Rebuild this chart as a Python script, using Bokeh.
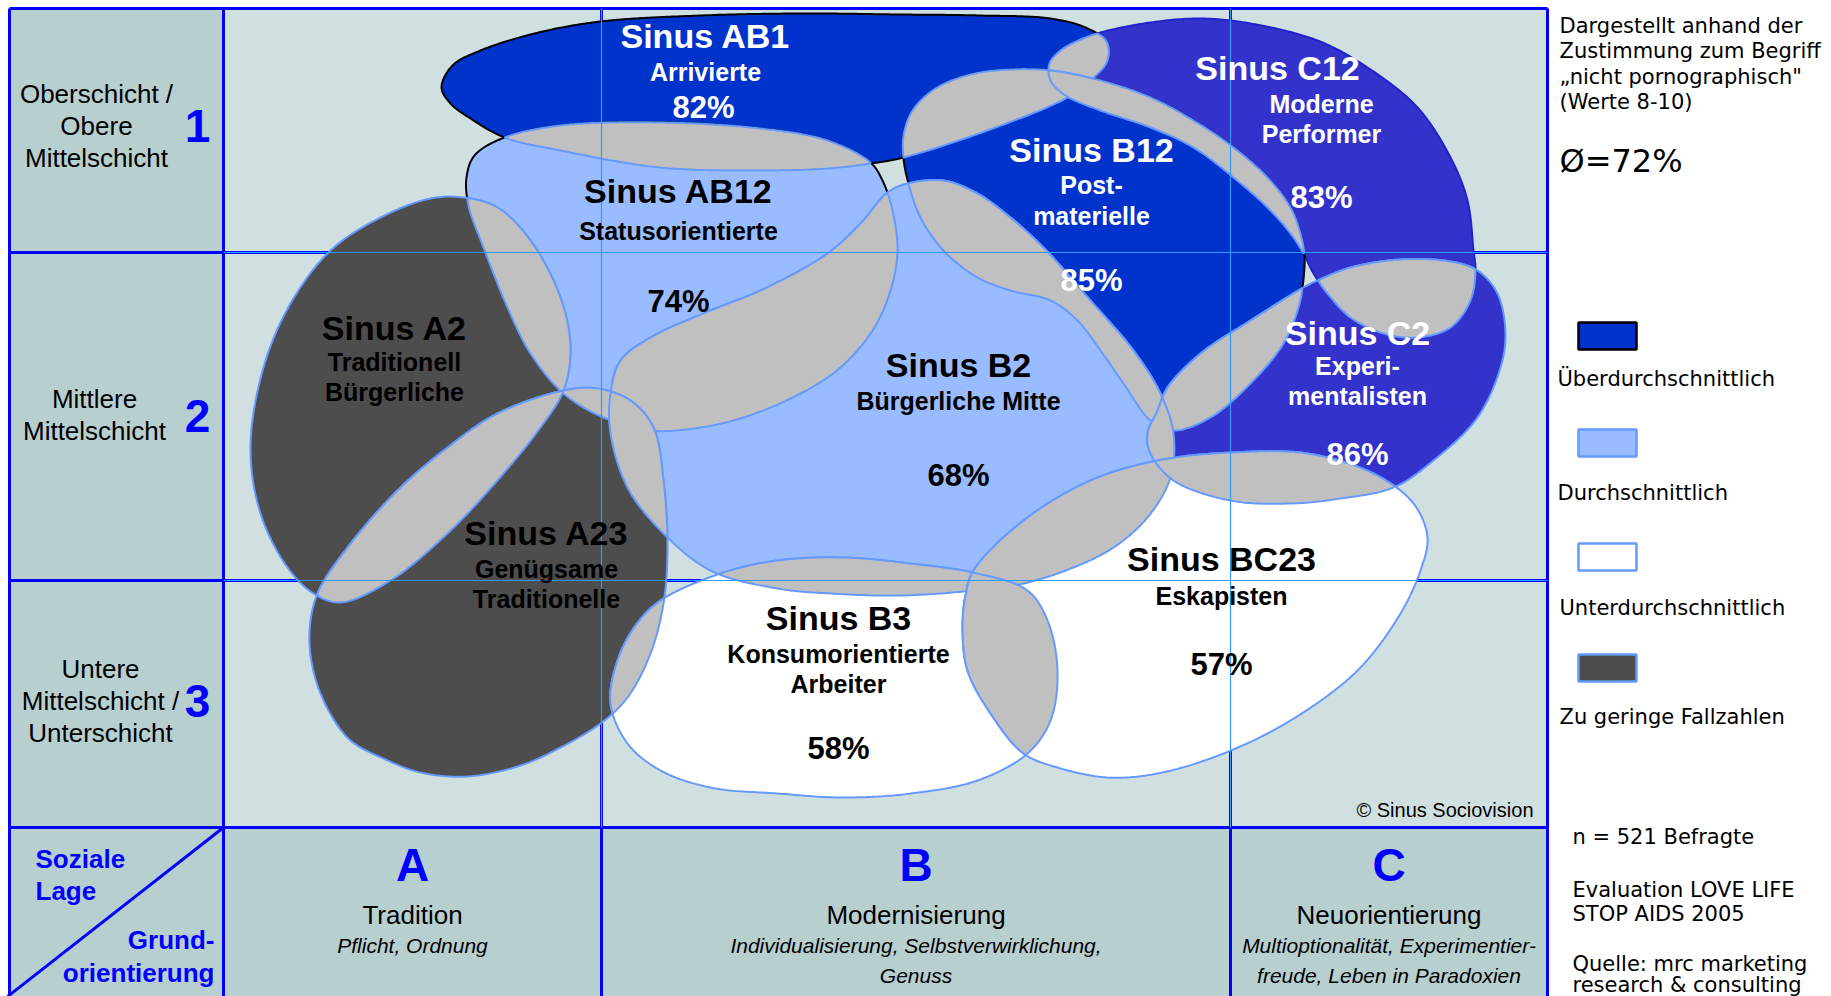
import numpy as np
from bokeh.plotting import figure
from bokeh.models import Range1d
from bokeh.core.properties import value
from bokeh.embed import file_html
from bokeh.resources import INLINE

# ---------------- data ----------------
milieu_codes = ["AB1", "AB12", "C12", "B12", "A2", "B2", "C2", "A23", "B3", "BC23"]
milieu_names = [["Arrivierte"], ["Statusorientierte"], ["Moderne", "Performer"],
                ["Post-", "materielle"], ["Traditionell", "Bürgerliche"], ["Bürgerliche Mitte"],
                ["Experi-", "mentalisten"], ["Genügsame", "Traditionelle"],
                ["Konsumorientierte", "Arbeiter"], ["Eskapisten"]]
agreement_pct = [82, 74, 83, 85, None, 68, 86, None, 58, 57]
rating = ["über", "durch", "über", "über", "gering", "durch", "über", "gering", "unter", "unter"]
average_pct = 72
n_respondents = 521

row_labels = [["Oberschicht /", "Obere", "Mittelschicht"], ["Mittlere", "Mittelschicht"],
              ["Untere", "Mittelschicht /", "Unterschicht"]]
row_numbers = ["1", "2", "3"]
col_letters = ["A", "B", "C"]
col_titles = ["Tradition", "Modernisierung", "Neuorientierung"]
col_subtitles = [["Pflicht, Ordnung"], ["Individualisierung, Selbstverwirklichung,", "Genuss"],
                 ["Multioptionalität, Experimentier-", "freude, Leben in Paradoxien"]]
legend_labels = ["Überdurchschnittlich", "Durchschnittlich", "Unterdurchschnittlich", "Zu geringe Fallzahlen"]
legend_keys = ["über", "durch", "unter", "gering"]

# ---------------- styles / geometry ----------------
FONT = "Liberation Sans"
FONT2 = "DejaVu Sans"
BLUE = "#0000ff"
THIN = "#3399ff"
EDGE = "#6699ff"
GRAY = "#c0c0c0"
BG_MAIN = "#d0e0e0"
BG_HEAD = "#b8cfd0"
fill_by_code = {"AB1": "#0033cc", "AB12": "#99bbff", "C12": "#3333cc", "B12": "#0033cc",
                "A2": "#4d4d4d", "B2": "#99bbff", "C2": "#3333cc", "A23": "#4d4d4d",
                "B3": "#ffffff", "BC23": "#ffffff"}
edge_by_code = {"AB1": "black", "AB12": "black", "B12": "black", "C12": "#2222cc"}
legend_fill = {"über": "#0033cc", "durch": "#99bbff", "unter": "#ffffff", "gering": "#4d4d4d"}
legend_edge = {"über": "black", "durch": EDGE, "unter": EDGE, "gering": EDGE}

# outline control points of the milieu shapes (page pixels)
outline = {
    "AB1": [(441, 87), (452, 65), (480, 50), (534, 33), (600, 21), (700, 15), (800, 13), (900, 14),
            (980, 15), (1050, 18), (1085, 27), (1106, 41), (1107, 60), (1090, 80), (1067, 97),
            (995, 127), (903, 157), (870, 163), (827, 168), (760, 170), (660, 167), (560, 150),
            (504, 137), (470, 118), (450, 103)],
    "AB12": [(504, 137), (560, 125), (660, 122), (760, 128), (827, 140), (870, 162), (882, 180),
             (892, 210), (897, 250), (890, 290), (872, 330), (840, 367), (800, 393), (743, 417),
             (693, 428), (650, 430), (603, 417), (563, 393), (530, 353), (507, 307), (483, 247),
             (468, 205), (466, 177), (474, 155)],
    "C12": [(1100, 32), (1150, 22), (1200, 18), (1250, 23), (1317, 40), (1367, 67), (1417, 107),
            (1450, 157), (1467, 200), (1473, 250), (1475, 270), (1470, 300), (1450, 327),
            (1417, 337), (1383, 333), (1350, 317), (1327, 293), (1313, 273), (1303, 253),
            (1290, 233), (1267, 207), (1233, 177), (1193, 147), (1150, 127), (1100, 110),
            (1065, 95), (1050, 80), (1049, 63), (1060, 50), (1078, 40)],
    "B12": [(903, 158), (903, 135), (912, 110), (935, 88), (970, 74), (1010, 69), (1050, 70),
            (1100, 80), (1150, 97), (1193, 120), (1233, 147), (1267, 177), (1290, 207),
            (1300, 233), (1304, 255), (1302, 287), (1298, 307), (1283, 343), (1250, 383),
            (1210, 417), (1173, 430), (1150, 420), (1123, 383), (1100, 350), (1077, 320),
            (1050, 300), (1010, 290), (977, 277), (943, 250), (920, 217), (908, 183)],
    "A2": [(463, 197), (430, 198), (380, 217), (330, 250), (290, 303), (263, 367), (250, 447),
           (260, 513), (287, 567), (313, 593), (340, 602), (390, 580), (447, 533), (497, 480),
           (540, 427), (563, 390), (570, 347), (560, 297), (530, 240), (497, 207)],
    "B2": [(907, 183), (943, 180), (977, 193), (1010, 217), (1043, 247), (1090, 300), (1133, 350),
           (1160, 393), (1173, 433), (1170, 477), (1147, 517), (1113, 547), (1073, 567),
           (1023, 583), (973, 590), (900, 595), (830, 593), (777, 588), (710, 570), (660, 530),
           (627, 487), (610, 433), (610, 393), (620, 360), (650, 337), (710, 310), (760, 290),
           (827, 253), (860, 223), (887, 192)],
    "C2": [(1303, 287), (1317, 280), (1350, 267), (1400, 259), (1450, 261), (1477, 270),
           (1497, 293), (1505, 333), (1500, 367), (1477, 417), (1433, 460), (1393, 487),
           (1340, 498), (1290, 503), (1230, 500), (1173, 480), (1150, 453), (1147, 433),
           (1157, 410), (1167, 387), (1200, 353), (1250, 320)],
    "A23": [(563, 390), (597, 388), (630, 400), (653, 427), (663, 480), (667, 547), (663, 603),
            (650, 653), (627, 697), (600, 723), (560, 747), (520, 765), (467, 776), (420, 772),
            (385, 759), (350, 740), (328, 710), (313, 671), (309, 631), (317, 593), (347, 547),
            (397, 490), (447, 447), (497, 413)],
    "B3": [(660, 600), (720, 573), (777, 560), (843, 557), (910, 563), (977, 573), (1027, 590),
           (1047, 620), (1057, 670), (1050, 720), (1027, 753), (977, 780), (910, 793), (843, 797),
           (777, 793), (710, 787), (660, 770), (627, 743), (610, 703), (617, 660), (635, 625)],
    "BC23": [(973, 570), (1023, 520), (1090, 480), (1157, 460), (1230, 452), (1307, 453),
             (1373, 473), (1413, 503), (1427, 537), (1420, 570), (1400, 613), (1357, 670),
             (1290, 720), (1223, 753), (1157, 773), (1107, 777), (1057, 767), (1023, 753),
             (990, 713), (967, 670), (962, 627), (965, 595)],
}
# label anchors: title x, title y, subtitle x, subtitle ys, pct x, pct y
label_pos = {
    "AB1": (705, 35, 705, [71], 703, 107), "AB12": (678, 190, 678, [230], 678, 301),
    "C12": (1277, 67, 1321, [103, 133], 1321, 197), "B12": (1091, 149, 1091, [184, 215], 1091, 280),
    "A2": (394, 327, 394, [361, 391], None, None), "B2": (958, 364, 958, [400], 958, 475),
    "C2": (1357, 332, 1357, [365, 395], 1357, 454), "A23": (546, 532, 546, [568, 598], None, None),
    "B3": (838, 617, 838, [653, 683], 838, 748), "BC23": (1221, 558, 1221, [595], 1221, 664),
}

GX = [9, 223, 601, 1230, 1547]
GY = [8, 252, 580, 827]
W, H = 1831, 996


# ---------------- geometry helpers ----------------
def cr_segment(p0, p1, p2, p3, n, alpha=0.5):
    def tj(ti, a, b):
        return ti + max(np.hypot(*(b - a)), 1e-6) ** alpha
    t0 = 0.0
    t1 = tj(t0, p0, p1)
    t2 = tj(t1, p1, p2)
    t3 = tj(t2, p2, p3)
    t = np.linspace(t1, t2, n, endpoint=False)[:, None]
    A1 = (t1 - t) / (t1 - t0) * p0 + (t - t0) / (t1 - t0) * p1
    A2 = (t2 - t) / (t2 - t1) * p1 + (t - t1) / (t2 - t1) * p2
    A3 = (t3 - t) / (t3 - t2) * p2 + (t - t2) / (t3 - t2) * p3
    B1 = (t2 - t) / (t2 - t0) * A1 + (t - t0) / (t2 - t0) * A2
    B2 = (t3 - t) / (t3 - t1) * A2 + (t - t1) / (t3 - t1) * A3
    return (t2 - t) / (t2 - t1) * B1 + (t - t1) / (t2 - t1) * B2


def closed_curve(pts):
    P = np.asarray(pts, float)
    m = len(P)
    out = []
    for i in range(m):
        p0, p1, p2, p3 = P[(i - 1) % m], P[i], P[(i + 1) % m], P[(i + 2) % m]
        n = max(4, int(np.hypot(*(p2 - p1)) / 2.5))
        out.append(cr_segment(p0, p1, p2, p3, n))
    C = np.vstack(out)
    x, y = C[:, 0], C[:, 1]
    area = 0.5 * np.sum(x * np.roll(y, -1) - np.roll(x, -1) * y)
    if area < 0:
        C = C[::-1]
    return C


def inside(P, V):
    x = P[:, 0][:, None]
    y = P[:, 1][:, None]
    x1 = V[:, 0][None, :]
    y1 = V[:, 1][None, :]
    x2 = np.roll(V[:, 0], -1)[None, :]
    y2 = np.roll(V[:, 1], -1)[None, :]
    cond = (y1 > y) != (y2 > y)
    dy = np.where(y2 == y1, 1e-12, y2 - y1)
    xi = x1 + (y - y1) * (x2 - x1) / dy
    return ((cond & (x < xi)).sum(axis=1) % 2) == 1


def runs(mask):
    n = len(mask)
    if not mask.any():
        return []
    if mask.all():
        return [np.arange(n)]
    start = int(np.argmin(mask))
    idx = (np.arange(n) + start) % n
    res, cur = [], []
    for i in idx:
        if mask[i]:
            cur.append(i)
        elif cur:
            res.append(np.array(cur))
            cur = []
    if cur:
        res.append(np.array(cur))
    return res


def intersect(A, B):
    ia = inside(A, B)
    ib = inside(B, A)
    if ia.all():
        return [A]
    if ib.all():
        return [B]
    ra = [A[r] for r in runs(ia)]
    rb = [B[r] for r in runs(ib)]
    if not ra or not rb:
        return []
    used = {"a": [False] * len(ra), "b": [False] * len(rb)}
    segs = {"a": ra, "b": rb}
    polys = []
    while not all(used["a"]):
        cur = used["a"].index(False)
        kind = "a"
        poly = []
        for _ in range(200):
            if used[kind][cur]:
                break
            used[kind][cur] = True
            seg = segs[kind][cur]
            poly.append(seg)
            other = "b" if kind == "a" else "a"
            d = [np.hypot(*(r[0] - seg[-1])) for r in segs[other]]
            cur = int(np.argmin(d))
            kind = other
        pg = np.vstack(poly)
        if len(pg) > 4:
            polys.append(pg)
    return polys


curves = {c: closed_curve(outline[c]) for c in milieu_codes}

# ---------------- figure ----------------
p = figure(width=W, height=H, x_range=Range1d(0, W), y_range=Range1d(H, 0),
           output_backend="svg", toolbar_location=None, min_border=0,
           x_axis_type=None, y_axis_type=None)
p.grid.visible = False
p.outline_line_color = None
p.background_fill_color = "white"
p.border_fill_color = "white"

# backgrounds
p.quad(left=[GX[0], GX[1], GX[0]], right=[GX[1], GX[4], GX[4]],
       top=[GY[0], GY[0], GY[3]], bottom=[GY[3], GY[3], H + 5],
       fill_color=[BG_HEAD, BG_MAIN, BG_HEAD], line_color=None)

# thick grid lines
p.multi_line(xs=[[x, x] for x in GX] + [[GX[0], GX[4]] for _ in GY] + [[GX[1], GX[0] - 2]],
             ys=[[GY[0], H + 5] for _ in GX] + [[y, y] for y in GY] + [[GY[3], GY[3] + (GX[1] - GX[0]) * 0.79]],
             line_color=BLUE, line_width=3)

# milieu shapes
p.patches(xs=[curves[c][:, 0].tolist() for c in milieu_codes],
          ys=[curves[c][:, 1].tolist() for c in milieu_codes],
          fill_color=[fill_by_code[c] for c in milieu_codes],
          line_color=[edge_by_code.get(c, EDGE) for c in milieu_codes], line_width=2)

# overlaps
ox, oy = [], []
for i in range(len(milieu_codes)):
    for j in range(i + 1, len(milieu_codes)):
        for pg in intersect(curves[milieu_codes[i]], curves[milieu_codes[j]]):
            ox.append(pg[:, 0].tolist())
            oy.append(pg[:, 1].tolist())
p.patches(xs=ox, ys=oy, fill_color=GRAY, line_color=EDGE, line_width=2)

# thin inner grid lines on top
p.multi_line(xs=[[GX[2], GX[2]], [GX[3], GX[3]], [GX[1], GX[4]], [GX[1], GX[4]]],
             ys=[[GY[0], GY[3]], [GY[0], GY[3]], [GY[1], GY[1]], [GY[2], GY[2]]],
             line_color=THIN, line_width=1.2)


def txt(x, y, s, size, color="black", style="normal", font=FONT, align="center"):
    p.text(x=[x], y=[y], text=[s], text_font=value(font), text_font_size=f"{size}px",
           text_font_style=style, text_color=color, text_align=align, text_baseline="middle")


# milieu labels
for code, names, pct, rt in zip(milieu_codes, milieu_names, agreement_pct, rating):
    tx, ty, sx, sys_, px, py = label_pos[code]
    col = "white" if rt == "über" else "black"
    txt(tx, ty, "Sinus " + code, 34, col, "bold")
    for nm, yy in zip(names, sys_):
        txt(sx, yy, nm, 25, col, "bold")
    if pct is not None:
        txt(px, py, f"{pct}%", 31, col, "bold")

# row labels
row_text_pos = [(96, [93, 125, 157], 125), (94, [398, 430], 415), (100, [668, 700, 732], 700)]
for lines, num, (x, ys, ny) in zip(row_labels, row_numbers, row_text_pos):
    for s, yy in zip(lines, ys):
        txt(x, yy, s, 26)
    txt(197, ny, num, 46, BLUE, "bold")

# column labels
col_x = [(GX[1] + GX[2]) / 2, (GX[2] + GX[3]) / 2, (GX[3] + GX[4]) / 2]
for x, let, ttl, subs in zip(col_x, col_letters, col_titles, col_subtitles):
    txt(x, 864, let, 46, BLUE, "bold")
    txt(x, 914, ttl, 26)
    for k, s in enumerate(subs):
        txt(x, 945 + 30 * k, s, 21, style="italic")

txt(35, 858, "Soziale", 26, BLUE, "bold", align="left")
txt(35, 890, "Lage", 26, BLUE, "bold", align="left")
txt(214, 939, "Grund-", 26, BLUE, "bold", align="right")
txt(214, 972, "orientierung", 26, BLUE, "bold", align="right")
txt(1533, 809, "© Sinus Sociovision", 20, align="right")

# right panel
for k, s in enumerate(["Dargestellt anhand der", "Zustimmung zum Begriff",
                       "\u201enicht pornographisch\"", "(Werte 8-10)"]):
    txt(1559, 25 + 25.5 * k, s, 21, font=FONT2, align="left")
txt(1559, 160, f"Ø={average_pct}%", 32, font=FONT2, align="left")

box_top = [322, 429, 543, 654]
p.quad(left=[1578] * 4, right=[1636] * 4, top=box_top, bottom=[t + 27 for t in box_top],
       fill_color=[legend_fill[k] for k in legend_keys],
       line_color=[legend_edge[k] for k in legend_keys], line_width=2.5)
for lab, lx, yy in zip(legend_labels, [1557, 1557, 1559, 1559], [378, 492, 607, 716]):
    txt(lx, yy, lab, 21, font=FONT2, align="left")

for s, yy in zip([f"n = {n_respondents} Befragte", "Evaluation LOVE LIFE", "STOP AIDS 2005",
                  "Quelle: mrc marketing", "research & consulting"], [836, 889, 913, 963, 984]):
    txt(1572, yy, s, 21, font=FONT2, align="left")

open("out.html", "w").write(file_html(p, INLINE))
